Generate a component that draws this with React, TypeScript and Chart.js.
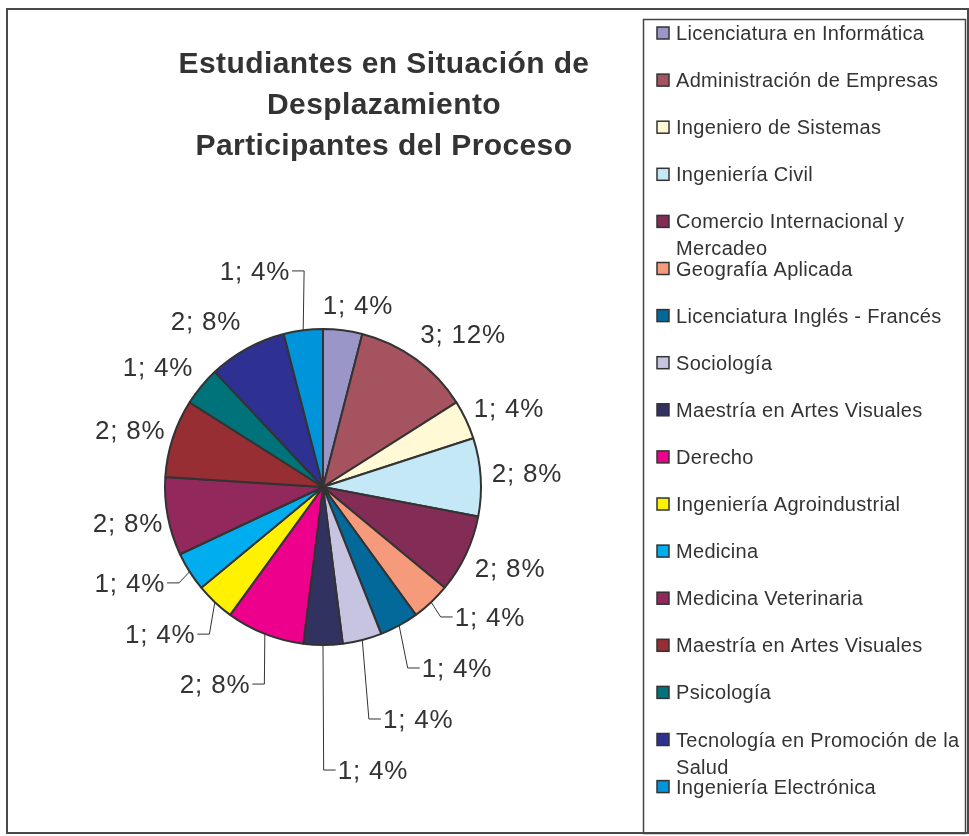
import React, { useEffect, useRef } from "react";
import { Chart, registerables } from "chart.js";

Chart.register(...registerables);

const TITLE_LINES = [
  "Estudiantes en Situación de",
  "Desplazamiento",
  "Participantes del Proceso",
];

const CATEGORIES = [
  "Licenciatura en Informática",
  "Administración de Empresas",
  "Ingeniero de Sistemas",
  "Ingeniería Civil",
  "Comercio Internacional y Mercadeo",
  "Geografía Aplicada",
  "Licenciatura Inglés - Francés",
  "Sociología",
  "Maestría en Artes Visuales",
  "Derecho",
  "Ingeniería Agroindustrial",
  "Medicina",
  "Medicina Veterinaria",
  "Maestría en Artes Visuales",
  "Psicología",
  "Tecnología en Promoción de la Salud",
  "Ingeniería Electrónica",
];

const VALUES = [1, 3, 1, 2, 2, 1, 1, 1, 1, 2, 1, 1, 2, 2, 1, 2, 1];

const COLORS = [
  "#9A96C8",
  "#A5535F",
  "#FFF9D5",
  "#C5E8F7",
  "#832D56",
  "#F59A7B",
  "#03689A",
  "#C7C4E2",
  "#31325F",
  "#EC008C",
  "#FFF100",
  "#00AEEF",
  "#92285C",
  "#962E33",
  "#00737A",
  "#2E3192",
  "#0095DA",
];

// label placement per slice: [distance as factor of radius, angle shift (deg), leader line]
const LABEL_DIST = [1.173, 1.313, 1.279, 1.294, 1.29, 1.339, 1.425, 1.587, 1.819, 1.422, 1.389, 1.365, 1.255, 1.273, 1.291, 1.285, 1.434];
const LABEL_SHIFT = [3.7, 6.5, 2.2, -0.3, -1.8, -8.9, -7.7, -7.9, -10, 7.1, 4.7, 6.0, 0.3, -1.5, -3.6, -6.4, -10.3];
const LABEL_LEADER = [0, 0, 0, 0, 0, 1, 1, 1, 1, 1, 1, 1, 0, 0, 0, 0, 1];

const FONT = '"Liberation Sans", Arial, Helvetica, sans-serif';
const TEXT = "#333333";

function wrapText(ctx: CanvasRenderingContext2D, text: string, maxW: number): string[] {
  const words = text.split(" ");
  const lines: string[] = [];
  let cur = "";
  for (const w of words) {
    const test = cur ? cur + " " + w : w;
    if (ctx.measureText(test).width > maxW && cur) {
      lines.push(cur);
      cur = w;
    } else {
      cur = test;
    }
  }
  if (cur) lines.push(cur);
  return lines;
}

const decorPlugin = {
  id: "decor",
  afterDraw(chart: any) {
    const ctx: CanvasRenderingContext2D = chart.ctx;
    ctx.save();

    // outer frame
    ctx.strokeStyle = "#4a4a4a";
    ctx.lineWidth = 2;
    ctx.strokeRect(7, 9, 961, 824);

    // legend frame
    ctx.strokeStyle = "#444444";
    ctx.lineWidth = 1.5;
    ctx.strokeRect(643.5, 19.5, 322, 814);

    // title
    ctx.fillStyle = TEXT;
    ctx.font = `bold 30px ${FONT}`;
    (ctx as any).letterSpacing = "0.4px";
    ctx.textAlign = "center";
    ctx.textBaseline = "alphabetic";
    TITLE_LINES.forEach((t, i) => ctx.fillText(t, 384, 73 + i * 41));

    // legend
    const labels: string[] = chart.data.labels;
    const colors: string[] = chart.data.datasets[0].backgroundColor;
    ctx.font = `20px ${FONT}`;
    (ctx as any).letterSpacing = "0.3px";
    ctx.textAlign = "left";
    labels.forEach((lab, i) => {
      const cy = 33 + i * 47.1;
      ctx.fillStyle = colors[i];
      ctx.fillRect(657, cy - 6, 12, 12);
      ctx.strokeStyle = "#333333";
      ctx.lineWidth = 1.5;
      ctx.strokeRect(657, cy - 6, 12, 12);
      ctx.fillStyle = TEXT;
      const lines = wrapText(ctx, lab, 296);
      lines.forEach((ln, j) => ctx.fillText(ln, 676, cy + 7 + j * 27));
    });

    // data labels
    const meta = chart.getDatasetMeta(0);
    const data: number[] = chart.data.datasets[0].data;
    const total = data.reduce((a, b) => a + b, 0);
    ctx.font = `26px ${FONT}`;
    (ctx as any).letterSpacing = "0.8px";
    ctx.textAlign = "center";
    meta.data.forEach((arc: any, i: number) => {
      const p = arc.getProps(["x", "y", "startAngle", "endAngle", "outerRadius"], true);
      const mid = (p.startAngle + p.endAngle) / 2;
      const ang = mid + (LABEL_SHIFT[i] * Math.PI) / 180;
      const d = LABEL_DIST[i] * p.outerRadius;
      const lx = p.x + Math.cos(ang) * d;
      const ly = p.y + Math.sin(ang) * d;
      const text = `${data[i]}; ${Math.round((data[i] / total) * 100)}%`;
      const w = ctx.measureText(text).width;
      ctx.fillStyle = TEXT;
      ctx.fillText(text, lx, ly + 9);
      if (LABEL_LEADER[i]) {
        const sx = p.x + Math.cos(mid) * p.outerRadius;
        const sy = p.y + Math.sin(mid) * p.outerRadius;
        const right = lx > sx;
        const edge = right ? lx - w / 2 - 2 : lx + w / 2 + 2;
        const elbow = right ? edge - 12 : edge + 12;
        ctx.strokeStyle = "#333333";
        ctx.lineWidth = 1;
        ctx.beginPath();
        ctx.moveTo(sx, sy);
        ctx.lineTo(elbow, ly);
        ctx.lineTo(edge, ly);
        ctx.stroke();
      }
    });

    ctx.restore();
  },
};

export default function App() {
  const ref = useRef<HTMLCanvasElement | null>(null);

  useEffect(() => {
    if (!ref.current) return;
    const chart = new Chart(ref.current, {
      type: "pie",
      data: {
        labels: CATEGORIES,
        datasets: [
          {
            data: VALUES,
            backgroundColor: COLORS,
            borderColor: "#333333",
            borderWidth: 2,
            hoverOffset: 0,
          },
        ],
      },
      options: {
        responsive: false,
        animation: false,
        events: [],
        layout: { padding: { left: 164, top: 328, right: 487, bottom: 190 } },
        plugins: {
          legend: { display: false },
          title: { display: false },
          tooltip: { enabled: false },
        },
      },
      plugins: [decorPlugin],
    } as any);
    return () => chart.destroy();
  }, []);

  return (
    <div style={{ position: "absolute", left: 0, top: 0, width: 969, height: 836, background: "#fff" }}>
      <canvas ref={ref} width={969} height={836} style={{ display: "block" }} />
    </div>
  );
}
